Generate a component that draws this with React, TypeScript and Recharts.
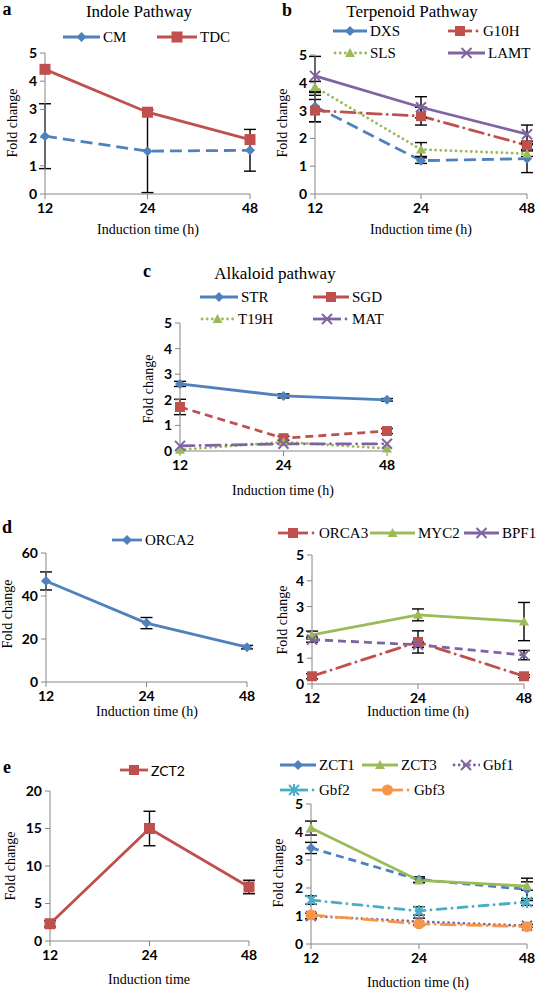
import React from "react";
import { ErrorBar, Line, LineChart, XAxis, YAxis } from "recharts";

const times = ["12", "24", "48"];

// a: indole pathway
const cm = [2.05, 1.52, 1.55];
const cmErr = [1.15, 1.47, 0.74];
const tdc = [4.42, 2.9, 1.93];

// b: terpenoid pathway
const dxs = [3.15, 1.2, 1.27];
const dxsErr = [0.55, 0.1, 0.5];
const g10h = [3.0, 2.8, 1.75];
const g10hErr = [0.4, 0.32, 0.15];
const sls = [3.85, 1.6, 1.45];
const slsErr = [0.2, 0.25, 0.1];
const lamt = [4.25, 3.12, 2.15];
const lamtErr = [0.7, 0.38, 0.33];

// c: alkaloid pathway
const str = [2.62, 2.15, 2.0];
const strErr = [0.1, 0.08, 0.05];
const sgd = [1.72, 0.5, 0.78];
const sgdErr = [0.3, 0.08, 0.1];
const t19h = [0.05, 0.35, 0.1];
const mat = [0.2, 0.28, 0.28];

// d: ORCA2 (left), ORCA3 / MYC2 / BPF1 (right)
const orca2 = [47, 27.4, 16.2];
const orca2Err = [4.2, 2.6, 0.8];
const orca3 = [0.3, 1.63, 0.3];
const orca3Err = [0.1, 0.43, 0.05];
const myc2 = [1.9, 2.68, 2.42];
const myc2Err = [0.15, 0.23, 0.74];
const bpf1 = [1.72, 1.52, 1.12];
const bpf1Err = [0.1, 0.1, 0.18];

// e: ZCT2 (left), ZCT1 / ZCT3 / Gbf1-3 (right)
const zct2 = [2.3, 15, 7.2];
const zct2Err = [0.4, 2.3, 0.9];
const zct1 = [3.43, 2.3, 1.95];
const zct1Err = [0.2, 0.1, 0.4];
const zct3 = [4.14, 2.27, 2.07];
const zct3Err = [0.25, 0.08, 0.15];
const gbf1 = [1.0, 0.8, 0.65];
const gbf1Err = [0.1, 0.12, 0.05];
const gbf2 = [1.57, 1.18, 1.5];
const gbf2Err = [0.15, 0.15, 0.12];
const gbf3 = [1.04, 0.72, 0.62];

const BLUE = "#4F81BD";
const RED = "#C0504D";
const GREEN = "#9BBB59";
const PURPLE = "#8064A2";
const AQUA = "#4BACC6";
const ORANGE = "#F79646";
const AXIS = "#868686";
const SERIF = "'Liberation Serif', 'Times New Roman', Times, 'DejaVu Serif', serif";
const SANS = "Lato, Carlito, sans-serif";

type Sty = "solid" | "dash" | "longdash" | "dot" | "dashdot" | "longdashdot";
type Shape = "diamond" | "square" | "triangle" | "x" | "star" | "circle";

const dashes: Record<Sty, string | undefined> = {
  solid: undefined,
  dash: "8 5",
  longdash: "12 6",
  dot: "0.1 5",
  dashdot: "9 6 0.1 6",
  longdashdot: "14 6 0.1 6",
};

type Series = {
  key: string;
  color: string;
  sty: Sty;
  shape: Shape;
  size?: number;
  err?: string;
};

const rowsOf = (cols: Record<string, number[]>) =>
  times.map((t, i) => {
    const r: Record<string, string | number> = { t };
    Object.keys(cols).forEach((k) => (r[k] = cols[k][i]));
    return r;
  });

function Mark({ cx, cy, shape, color, s = 5 }: { cx: number; cy: number; shape: Shape; color: string; s?: number }) {
  if (cx == null || cy == null) return null;
  switch (shape) {
    case "diamond":
      return <polygon points={`${cx},${cy - s} ${cx + s},${cy} ${cx},${cy + s} ${cx - s},${cy}`} fill={color} />;
    case "square":
      return <rect x={cx - s} y={cy - s} width={2 * s} height={2 * s} fill={color} />;
    case "triangle":
      return <polygon points={`${cx},${cy - s} ${cx + s},${cy + s * 0.8} ${cx - s},${cy + s * 0.8}`} fill={color} />;
    case "circle":
      return <circle cx={cx} cy={cy} r={s} fill={color} />;
    case "x":
      return (
        <g stroke={color} strokeWidth={2}>
          <line x1={cx - s} y1={cy - s} x2={cx + s} y2={cy + s} />
          <line x1={cx - s} y1={cy + s} x2={cx + s} y2={cy - s} />
        </g>
      );
    case "star":
      return (
        <g stroke={color} strokeWidth={2}>
          <line x1={cx - s} y1={cy - s} x2={cx + s} y2={cy + s} />
          <line x1={cx - s} y1={cy + s} x2={cx + s} y2={cy - s} />
          <line x1={cx} y1={cy - s - 1} x2={cx} y2={cy + s + 1} />
        </g>
      );
  }
  return null;
}

type PanelProps = {
  left: number;
  right: number;
  top: number;
  bottom: number;
  domain: [number, number];
  ticks: number[];
  rows: Record<string, string | number>[];
  series: Series[];
};

const tickStyle = { fill: "#000", fontSize: 14, fontWeight: 700, fontFamily: SANS };

function Panel({ left, right, top, bottom, domain, ticks, rows, series }: PanelProps) {
  const yW = 42;
  const padT = 12;
  const padR = 14;
  const xH = 28;
  return (
    <div style={{ position: "absolute", left: left - yW, top: top - padT }}>
      <LineChart
        width={right - left + yW + padR}
        height={bottom - top + padT + xH}
        data={rows}
        margin={{ top: padT, right: padR, left: 0, bottom: 0 }}
      >
        <XAxis
          dataKey="t"
          height={xH}
          interval={0}
          padding={{ left: 0, right: 0 }}
          axisLine={{ stroke: AXIS }}
          tickLine={{ stroke: AXIS }}
          tickSize={5}
          tickMargin={4}
          tick={tickStyle}
        />
        <YAxis
          type="number"
          width={yW}
          domain={domain}
          ticks={ticks}
          interval={0}
          axisLine={{ stroke: AXIS }}
          tickLine={{ stroke: AXIS }}
          tickSize={5}
          tickMargin={3}
          tick={tickStyle}
        />
        {series.map((s) => (
          <Line
            key={s.key}
            dataKey={s.key}
            stroke={s.color}
            strokeWidth={2.8}
            strokeDasharray={dashes[s.sty]}
            strokeLinecap={s.sty === "dot" || s.sty.endsWith("dashdot") ? "round" : "butt"}
            dot={(p: any) => <Mark key={`${s.key}-${p.index}`} cx={p.cx} cy={p.cy} shape={s.shape} color={s.color} s={s.size ?? 5} />}
            activeDot={false}
            isAnimationActive={false}
          >
            {s.err ? (
              <ErrorBar dataKey={s.err} direction="y" width={6} stroke="#000" strokeWidth={1.4} isAnimationActive={false} />
            ) : null}
          </Line>
        ))}
      </LineChart>
    </div>
  );
}

function T({
  x,
  y,
  size = 14,
  bold = false,
  sans = false,
  rot = false,
  children,
}: {
  x: number;
  y: number;
  size?: number;
  bold?: boolean;
  sans?: boolean;
  rot?: boolean;
  children: React.ReactNode;
}) {
  return (
    <div
      style={{
        position: "absolute",
        left: x,
        top: y,
        transform: `translate(-50%, -50%)${rot ? " rotate(-90deg)" : ""}`,
        fontSize: size,
        fontWeight: bold ? 700 : 400,
        fontFamily: sans ? SANS : SERIF,
        whiteSpace: "nowrap",
        lineHeight: 1.1,
        color: "#000",
      }}
    >
      {children}
    </div>
  );
}

function Key({
  x,
  y,
  w,
  label,
  color,
  sty,
  shape,
  size = 5,
  sans = false,
}: {
  x: number;
  y: number;
  w: number;
  label: string;
  color: string;
  sty: Sty;
  shape: Shape;
  size?: number;
  sans?: boolean;
}) {
  const trail = sty.endsWith("dashdot");
  const sw = w + (trail ? 8 : 0);
  return (
    <div style={{ position: "absolute", left: x, top: y - 9, height: 18, display: "flex", alignItems: "center" }}>
      <svg width={sw} height={18} style={{ display: "block" }}>
        <line
          x1={sty === "dot" ? 2 : 0}
          y1={9}
          x2={w}
          y2={9}
          stroke={color}
          strokeWidth={2.8}
          strokeDasharray={sty === "dot" ? "0.1 5" : undefined}
          strokeLinecap={sty === "dot" ? "round" : "butt"}
        />
        {trail ? <circle cx={w + 5} cy={9} r={1.4} fill={color} /> : null}
        <Mark cx={w / 2} cy={9} shape={shape} color={color} s={size} />
      </svg>
      <span style={{ marginLeft: 3, fontSize: sans ? 14 : 15, fontFamily: sans ? SANS : SERIF, whiteSpace: "nowrap" }}>
        {label}
      </span>
    </div>
  );
}

const y5 = [0, 1, 2, 3, 4, 5];

export default function App() {
  const rowsA = rowsOf({ cm, cmErr, tdc });
  const rowsB = rowsOf({ dxs, dxsErr, g10h, g10hErr, sls, slsErr, lamt, lamtErr });
  const rowsC = rowsOf({ str, strErr, sgd, sgdErr, t19h, mat });
  const rowsDL = rowsOf({ orca2, orca2Err });
  const rowsDR = rowsOf({ orca3, orca3Err, myc2, myc2Err, bpf1, bpf1Err });
  const rowsEL = rowsOf({ zct2, zct2Err });
  const rowsER = rowsOf({ zct1, zct1Err, zct3, zct3Err, gbf1, gbf1Err, gbf2, gbf2Err, gbf3 });

  return (
    <div style={{ position: "absolute", left: 0, top: 0, width: 537, height: 992, background: "#fff", overflow: "hidden", fontFamily: SERIF }}>
      {/* a */}
      <T x={7} y={10} size={18} bold>a</T>
      <T x={139} y={12} size={17}>Indole Pathway</T>
      <Key x={63} y={37} w={37} label="CM" color={BLUE} sty="longdash" shape="diamond" />
      <Key x={157} y={37} w={40} label="TDC" color={RED} sty="solid" shape="square" size={5.5} />
      <Panel
        left={45}
        right={250}
        top={53}
        bottom={194}
        domain={[0, 5]}
        ticks={y5}
        rows={rowsA}
        series={[
          { key: "cm", color: BLUE, sty: "longdash", shape: "diamond", err: "cmErr" },
          { key: "tdc", color: RED, sty: "solid", shape: "square", size: 5.5 },
        ]}
      />
      <T x={13} y={123} rot>Fold change</T>
      <T x={148} y={230}>Induction time (h)</T>

      {/* b */}
      <T x={287} y={11} size={18} bold>b</T>
      <T x={412} y={12} size={17}>Terpenoid Pathway</T>
      <Key x={333} y={31} w={34} label="DXS" color={BLUE} sty="longdash" shape="diamond" />
      <Key x={448} y={31} w={24} label="G10H" color={RED} sty="longdashdot" shape="square" />
      <Key x={333} y={53} w={34} label="SLS" color={GREEN} sty="dot" shape="triangle" />
      <Key x={448} y={53} w={37} label="LAMT" color={PURPLE} sty="solid" shape="x" />
      <Panel
        left={315}
        right={527}
        top={55}
        bottom={194}
        domain={[0, 5]}
        ticks={y5}
        rows={rowsB}
        series={[
          { key: "dxs", color: BLUE, sty: "longdash", shape: "diamond", err: "dxsErr" },
          { key: "g10h", color: RED, sty: "longdashdot", shape: "square", err: "g10hErr" },
          { key: "sls", color: GREEN, sty: "dot", shape: "triangle", err: "slsErr" },
          { key: "lamt", color: PURPLE, sty: "solid", shape: "x", err: "lamtErr" },
        ]}
      />
      <T x={283} y={123} rot>Fold change</T>
      <T x={421} y={230}>Induction time (h)</T>

      {/* c */}
      <T x={147} y={272} size={18} bold>c</T>
      <T x={275} y={274} size={17}>Alkaloid pathway</T>
      <Key x={200} y={297} w={38} label="STR" color={BLUE} sty="solid" shape="diamond" />
      <Key x={313} y={297} w={36} label="SGD" color={RED} sty="dash" shape="square" />
      <Key x={200} y={319} w={35} label="T19H" color={GREEN} sty="dot" shape="triangle" />
      <Key x={313} y={319} w={28} label="MAT" color={PURPLE} sty="longdashdot" shape="x" />
      <Panel
        left={180}
        right={387}
        top={323}
        bottom={451}
        domain={[0, 5]}
        ticks={y5}
        rows={rowsC}
        series={[
          { key: "str", color: BLUE, sty: "solid", shape: "diamond", err: "strErr" },
          { key: "sgd", color: RED, sty: "dash", shape: "square", err: "sgdErr" },
          { key: "t19h", color: GREEN, sty: "dot", shape: "triangle" },
          { key: "mat", color: PURPLE, sty: "longdashdot", shape: "x" },
        ]}
      />
      <T x={149} y={389} rot>Fold change</T>
      <T x={283} y={491}>Induction time (h)</T>

      {/* d */}
      <T x={7} y={528} size={18} bold>d</T>
      <Key x={112} y={540} w={30} label="ORCA2" color={BLUE} sty="solid" shape="diamond" />
      <Panel
        left={46}
        right={247}
        top={553}
        bottom={682}
        domain={[0, 60]}
        ticks={[0, 20, 40, 60]}
        rows={rowsDL}
        series={[{ key: "orca2", color: BLUE, sty: "solid", shape: "diamond", err: "orca2Err" }]}
      />
      <T x={8} y={614} rot>Fold change</T>
      <T x={147} y={712}>Induction time (h)</T>

      <Key x={278} y={533} w={30} label="ORCA3" color={RED} sty="longdashdot" shape="square" />
      <Key x={370} y={533} w={45} label="MYC2" color={GREEN} sty="solid" shape="triangle" />
      <Key x={464} y={533} w={35} label="BPF1" color={PURPLE} sty="dash" shape="x" />
      <Panel
        left={312}
        right={524}
        top={555}
        bottom={684}
        domain={[0, 5]}
        ticks={y5}
        rows={rowsDR}
        series={[
          { key: "orca3", color: RED, sty: "longdashdot", shape: "square", err: "orca3Err" },
          { key: "myc2", color: GREEN, sty: "solid", shape: "triangle", err: "myc2Err" },
          { key: "bpf1", color: PURPLE, sty: "dash", shape: "x", err: "bpf1Err" },
        ]}
      />
      <T x={283} y={620} rot>Fold change</T>
      <T x={418} y={712}>Induction time (h)</T>

      {/* e */}
      <T x={7} y={768} size={18} bold>e</T>
      <Key x={120} y={770} w={28} label="ZCT2" color={RED} sty="solid" shape="square" sans />
      <Panel
        left={50}
        right={249}
        top={791}
        bottom={941}
        domain={[0, 20]}
        ticks={[0, 5, 10, 15, 20]}
        rows={rowsEL}
        series={[{ key: "zct2", color: RED, sty: "solid", shape: "square", size: 5.5, err: "zct2Err" }]}
      />
      <T x={11} y={866} rot>Fold change</T>
      <T x={149} y={980}>Induction time</T>

      <Key x={280} y={765} w={36} label="ZCT1" color={BLUE} sty="dash" shape="diamond" />
      <Key x={362} y={765} w={36} label="ZCT3" color={GREEN} sty="solid" shape="triangle" />
      <Key x={452} y={765} w={28} label="Gbf1" color={PURPLE} sty="dot" shape="x" />
      <Key x={280} y={790} w={28} label="Gbf2" color={AQUA} sty="dashdot" shape="star" />
      <Key x={372} y={790} w={31} label="Gbf3" color={ORANGE} sty="longdashdot" shape="circle" size={5.5} />
      <Panel
        left={311}
        right={527}
        top={804}
        bottom={944}
        domain={[0, 5]}
        ticks={y5}
        rows={rowsER}
        series={[
          { key: "zct1", color: BLUE, sty: "dash", shape: "diamond", err: "zct1Err" },
          { key: "zct3", color: GREEN, sty: "solid", shape: "triangle", err: "zct3Err" },
          { key: "gbf1", color: PURPLE, sty: "dot", shape: "x", err: "gbf1Err" },
          { key: "gbf2", color: AQUA, sty: "dashdot", shape: "star", err: "gbf2Err" },
          { key: "gbf3", color: ORANGE, sty: "longdashdot", shape: "circle", size: 5.5 },
        ]}
      />
      <T x={279} y={873} rot>Fold change</T>
      <T x={418} y={983}>Induction time (h)</T>
    </div>
  );
}
